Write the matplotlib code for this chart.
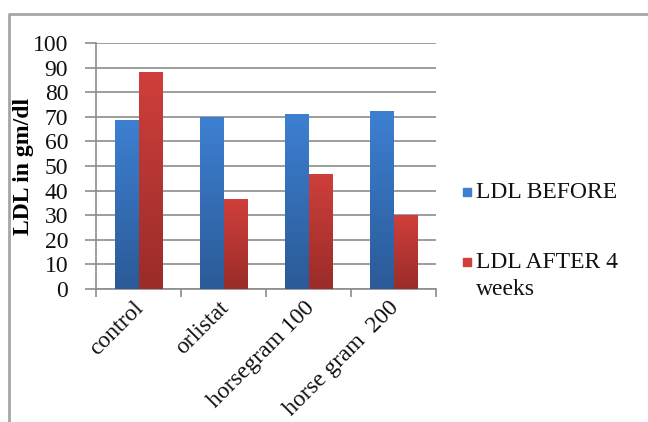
import numpy as np
import matplotlib
matplotlib.use("Agg")
import matplotlib.pyplot as plt
from matplotlib.patches import Rectangle
from matplotlib.lines import Line2D
from matplotlib.colors import LinearSegmentedColormap
from matplotlib.transforms import ScaledTranslation

plt.rcParams['font.family'] = ['Liberation Serif', 'DejaVu Serif']

# Data
groups = ['control', 'orlistat', 'horsegram 100', 'horse gram  200']
series_names = ['LDL BEFORE', 'LDL AFTER 4\nweeks']
ldl_before = [68.9, 70.0, 71.2, 72.2]
ldl_after = [88.2, 36.4, 46.9, 29.9]
y_ticks = list(range(0, 101, 10))

# Colours (top of bar, bottom of bar)
blue_grad = ('#3d80d2', '#2b5a97')
red_grad = ('#cf3f3b', '#9a2c29')
grid_col = '#8c8c8c'
fs = 17

fig = plt.figure(figsize=(6.48, 4.22), dpi=100)
ax = fig.add_axes([96 / 648, 1 - 289 / 422, 340 / 648, 246 / 422])

x = np.arange(len(groups))
width = 0.28


def gradient_bars(xpos, heights, cols):
    cmap = LinearSegmentedColormap.from_list('g', [cols[1], cols[0]])
    bars = ax.bar(xpos, heights, width, color='none', edgecolor='none', zorder=3)
    grad = np.linspace(0, 1, 256).reshape(-1, 1)
    for b in bars:
        x0, y0 = b.get_x(), b.get_y()
        w, h = b.get_width(), b.get_height()
        im = ax.imshow(grad, cmap=cmap, origin='lower', aspect='auto',
                       extent=[x0, x0 + w, y0, y0 + h], zorder=3,
                       interpolation='bilinear')
        im.set_clip_path(b)
    return bars


gradient_bars(x - width / 2, ldl_before, blue_grad)
gradient_bars(x + width / 2, ldl_after, red_grad)

ax.set_xlim(-0.5, len(groups) - 0.5)
ax.set_ylim(0, 100)

# gridlines and axes
ax.set_yticks(y_ticks)
ax.yaxis.grid(True, color=grid_col, linewidth=1.2, zorder=1)
ax.set_axisbelow(True)
for s in ['top', 'right']:
    ax.spines[s].set_visible(False)
for s in ['left', 'bottom']:
    ax.spines[s].set_color(grid_col)
    ax.spines[s].set_linewidth(1.2)

ax.tick_params(axis='y', length=8, width=1.2, color=grid_col, labelsize=fs,
               pad=12, labelcolor='#111111')
ax.set_xticks(np.arange(-0.5, len(groups)), minor=True)
ax.set_xticks(x)
ax.tick_params(axis='x', which='minor', length=6, width=1.2, color=grid_col)
ax.tick_params(axis='x', which='major', length=0, labelsize=fs, pad=6,
               labelcolor='#111111')
ax.set_xticklabels(groups, rotation=45, ha='right', rotation_mode='anchor')
shift = ScaledTranslation(-5 / 100, 0, fig.dpi_scale_trans)
for lbl in ax.get_xticklabels():
    lbl.set_transform(lbl.get_transform() + shift)

ax.set_ylabel('LDL in gm/dl', fontsize=fs, fontweight='bold', va='center')
ax.yaxis.set_label_coords((24 - 96) / 340, (289 - 166) / 246)

# legend
leg_cols = [blue_grad[0], red_grad[0]]
leg_y = [192, 262]
for name, c, yy in zip(series_names, leg_cols, leg_y):
    fig.patches.append(Rectangle((463 / 648, 1 - (yy + 4) / 422), 8 / 648, 8 / 422,
                                 transform=fig.transFigure, color=c))
    fig.text(476 / 648, 1 - (yy - 10) / 422, name, fontsize=fs, va='top',
             ha='left', color='#111111', linespacing=1.4)

# outer frame
fig.lines.append(Line2D([8.5 / 648, 8.5 / 648, 1], [0, 1 - 14 / 422, 1 - 14 / 422],
                        transform=fig.transFigure, color='#a6a6a6', linewidth=2))

fig.savefig('out.png', dpi=100)
